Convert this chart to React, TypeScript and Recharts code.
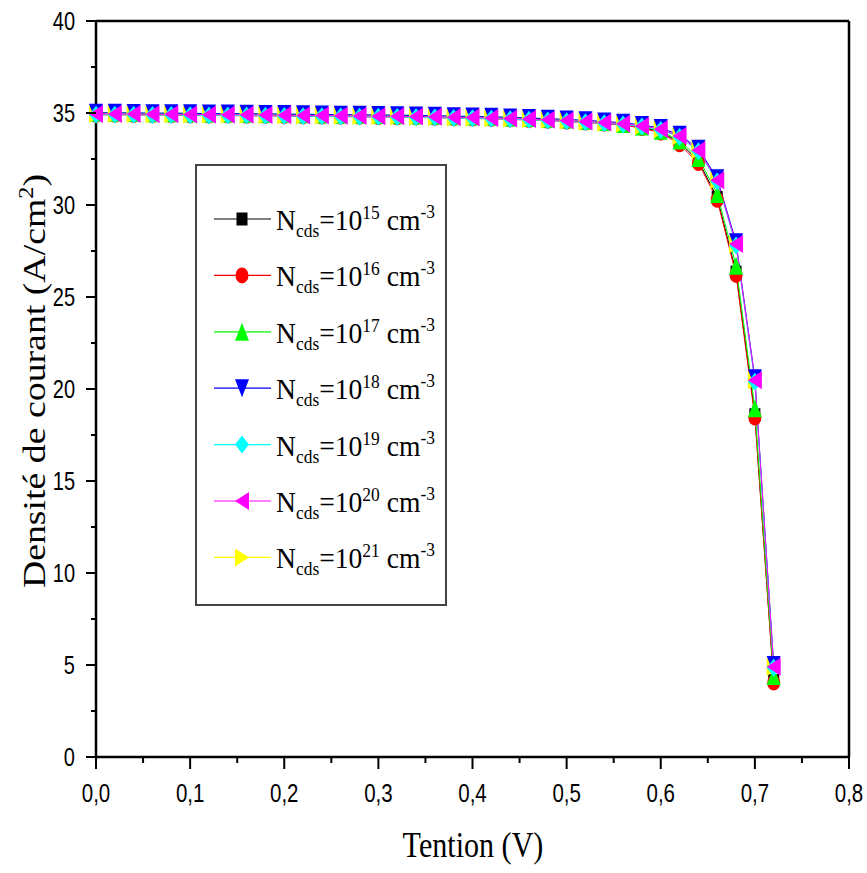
import { LineChart, Line, XAxis, YAxis, Label, Legend, ReferenceLine } from 'recharts';

const VOLTAGE = [
  0, 0.02, 0.04, 0.06, 0.08, 0.1, 0.12, 0.14, 0.16, 0.18, 0.2, 0.22, 0.24, 0.26, 0.28, 0.3, 0.32, 0.34,
  0.36, 0.38, 0.4, 0.42, 0.44, 0.46, 0.48, 0.5, 0.52, 0.54, 0.56, 0.58, 0.6, 0.62, 0.64, 0.66, 0.68, 0.7, 0.72,
];

const N15 = [
  34.93, 34.93, 34.92, 34.91, 34.91, 34.9, 34.89, 34.89, 34.88, 34.87, 34.86, 34.85, 34.84, 34.83, 34.82, 34.81,
  34.8, 34.79, 34.77, 34.75, 34.73, 34.71, 34.68, 34.65, 34.61, 34.56, 34.51, 34.45, 34.37, 34.22, 33.98, 33.4,
  32.4, 30.4, 26.35, 18.6, 4.15,
];
const N16 = [
  34.9, 34.9, 34.89, 34.88, 34.88, 34.87, 34.86, 34.86, 34.85, 34.84, 34.83, 34.82, 34.81, 34.8, 34.79, 34.78,
  34.77, 34.76, 34.74, 34.72, 34.7, 34.68, 34.65, 34.62, 34.58, 34.53, 34.48, 34.42, 34.34, 34.18, 33.93, 33.3,
  32.28, 30.28, 26.2, 18.45, 4.05,
];
const N17 = [
  35.01, 35.01, 35.0, 34.99, 34.99, 34.98, 34.97, 34.97, 34.96, 34.95, 34.94, 34.93, 34.92, 34.91, 34.9, 34.89,
  34.88, 34.87, 34.85, 34.83, 34.81, 34.79, 34.76, 34.73, 34.69, 34.64, 34.58, 34.51, 34.4, 34.26, 34.03, 33.5,
  32.55, 30.6, 26.7, 18.95, 4.4,
];
const N18 = [
  35.01, 35.01, 35.0, 34.99, 34.99, 34.98, 34.97, 34.97, 34.96, 34.95, 34.94, 34.93, 34.92, 34.91, 34.9, 34.89,
  34.88, 34.87, 34.85, 34.83, 34.81, 34.79, 34.76, 34.73, 34.69, 34.65, 34.6, 34.54, 34.47, 34.35, 34.18, 33.82,
  33.06, 31.45, 27.98, 20.58, 5.0,
];
const N19 = [
  34.91, 34.91, 34.9, 34.89, 34.89, 34.88, 34.87, 34.87, 34.86, 34.85, 34.84, 34.83, 34.82, 34.81, 34.8, 34.79,
  34.78, 34.77, 34.75, 34.73, 34.71, 34.69, 34.66, 34.63, 34.59, 34.55, 34.5, 34.44, 34.38, 34.26, 34.08, 33.7,
  32.92, 31.28, 27.8, 20.4, 4.85,
];
const N20 = [
  34.95, 34.95, 34.94, 34.93, 34.93, 34.92, 34.91, 34.91, 34.9, 34.89, 34.88, 34.87, 34.86, 34.85, 34.84, 34.83,
  34.82, 34.81, 34.79, 34.77, 34.75, 34.73, 34.7, 34.67, 34.63, 34.59, 34.54, 34.48, 34.42, 34.3, 34.12, 33.75,
  32.98, 31.35, 27.88, 20.48, 4.9,
];
const N21 = [
  34.94, 34.94, 34.93, 34.92, 34.92, 34.91, 34.9, 34.9, 34.89, 34.88, 34.87, 34.86, 34.85, 34.84, 34.83, 34.82,
  34.81, 34.8, 34.78, 34.76, 34.74, 34.72, 34.69, 34.66, 34.62, 34.58, 34.53, 34.47, 34.41, 34.29, 34.11, 33.74,
  32.97, 31.34, 27.87, 20.47, 4.89,
];

const X_TICKS = [0, 0.05, 0.1, 0.15, 0.2, 0.25, 0.3, 0.35, 0.4, 0.45, 0.5, 0.55, 0.6, 0.65, 0.7, 0.75, 0.8];
const Y_TICKS = [0, 2.5, 5, 7.5, 10, 12.5, 15, 17.5, 20, 22.5, 25, 27.5, 30, 32.5, 35, 37.5, 40];

// legend order (10^15 .. 10^21)
const SERIES = [
  { key: 'n15', exp: '15', color: '#000000', shape: 'square' },
  { key: 'n16', exp: '16', color: '#ff0000', shape: 'circle' },
  { key: 'n17', exp: '17', color: '#00ff00', shape: 'up' },
  { key: 'n18', exp: '18', color: '#0000ff', shape: 'down' },
  { key: 'n19', exp: '19', color: '#00ffff', shape: 'diamond' },
  { key: 'n20', exp: '20', color: '#ff00ff', shape: 'left' },
  { key: 'n21', exp: '21', color: '#ffff00', shape: 'right' },
];
// drawing order so that magenta ends up on top, yellow hidden under it
const DRAW_ORDER = ['n15', 'n16', 'n17', 'n21', 'n18', 'n19', 'n20'];

const data = VOLTAGE.map((v, i) => ({
  v,
  n15: N15[i],
  n16: N16[i],
  n17: N17[i],
  n18: N18[i],
  n19: N19[i],
  n20: N20[i],
  n21: N21[i],
}));

const SANS = '"Liberation Sans", Arial, sans-serif';
const SERIF = '"Liberation Serif", "Times New Roman", serif';

function markerShape(shape: string, cx: number, cy: number, color: string, key?: any) {
  const w = 7;
  const h = 9;
  switch (shape) {
    case 'square':
      return <rect key={key} x={cx - 5.5} y={cy - 6.5} width={11} height={13} fill={color} />;
    case 'circle':
      return <ellipse key={key} cx={cx} cy={cy} rx={6.5} ry={8} fill={color} />;
    case 'up':
      return <polygon key={key} points={`${cx},${cy - h} ${cx + w},${cy + h} ${cx - w},${cy + h}`} fill={color} />;
    case 'down':
      return <polygon key={key} points={`${cx - w},${cy - h} ${cx + w},${cy - h} ${cx},${cy + h}`} fill={color} />;
    case 'diamond':
      return <polygon key={key} points={`${cx},${cy - h} ${cx + w},${cy} ${cx},${cy + h} ${cx - w},${cy}`} fill={color} />;
    case 'left':
      return <polygon key={key} points={`${cx - w},${cy} ${cx + w},${cy - h} ${cx + w},${cy + h}`} fill={color} />;
    default:
      return <polygon key={key} points={`${cx + w},${cy} ${cx - w},${cy - h} ${cx - w},${cy + h}`} fill={color} />;
  }
}

const XTick = (props: any) => {
  const { x, y, payload } = props;
  const v = payload.value;
  const major = Math.round(v * 100) % 10 === 0;
  return (
    <g>
      <line x1={x} y1={y} x2={x} y2={y + (major ? 12 : 6)} stroke="#000" strokeWidth={2} />
      {major && (
        <text
          transform={`translate(${x},${y + 45}) scale(0.82,1)`}
          textAnchor="middle"
          fontFamily={SANS}
          fontSize={25}
          fill="#000"
        >
          {v.toFixed(1).replace('.', ',')}
        </text>
      )}
    </g>
  );
};

const YTick = (props: any) => {
  const { x, y, payload } = props;
  const v = payload.value;
  const major = v % 5 === 0;
  return (
    <g>
      <line x1={x} y1={y} x2={x - (major ? 10 : 5)} y2={y} stroke="#000" strokeWidth={2} />
      {major && (
        <text
          transform={`translate(${x - 21},${y + 9}) scale(0.8,1)`}
          textAnchor="end"
          fontFamily={SANS}
          fontSize={25}
          fill="#000"
        >
          {v}
        </text>
      )}
    </g>
  );
};

const XTitle = () => (
  <g transform="translate(473,857) scale(0.86,1)">
    <text textAnchor="middle" fontFamily={SERIF} fontSize={35} fill="#000">
      Tention (V)
    </text>
  </g>
);

const YTitle = () => (
  <g transform="translate(45,381) rotate(-90) scale(1.22,1)">
    <text textAnchor="middle" fontFamily={SERIF} fontSize={31} fill="#000">
      Densité de courant (A/cm
      <tspan dy={-12} fontSize={20}>
        2
      </tspan>
      <tspan dy={12}>)</tspan>
    </text>
  </g>
);

const renderLegend = () => (
  <svg width={252} height={442} style={{ display: 'block' }}>
    <rect x={1} y={1} width={250} height={440} fill="#fff" stroke="#444" strokeWidth={2} />
    {SERIES.map((s, i) => {
      const cy = 55 + i * 56.4;
      return (
        <g key={s.key}>
          <line x1={19} y1={cy} x2={76} y2={cy} stroke={s.color} strokeWidth={1.2} />
          {markerShape(s.shape, 47, cy, s.color)}
          <g transform={`translate(81,${cy + 11}) scale(0.92,1)`}>
            <text fontFamily={SERIF} fontSize={30} fill="#000">
              N
              <tspan dy={7} fontSize={19}>
                cds
              </tspan>
              <tspan dy={-7}>=10</tspan>
              <tspan dy={-11} fontSize={19}>
                {s.exp}
              </tspan>
              <tspan dy={11}>{' cm'}</tspan>
              <tspan dy={-12} fontSize={19}>
                -3
              </tspan>
            </text>
          </g>
        </g>
      );
    })}
  </svg>
);

export default function App() {
  return (
    <div style={{ position: 'absolute', left: 0, top: 0, width: 867, height: 873, background: '#fff' }}>
      <LineChart width={867} height={873} data={data} margin={{ top: 21, right: 18, bottom: 0, left: 0 }}>
        <XAxis
          dataKey="v"
          type="number"
          domain={[0, 0.8]}
          ticks={X_TICKS}
          interval={0}
          tickSize={0}
          tickMargin={0}
          tickLine={false}
          tick={<XTick />}
          height={116}
          axisLine={{ stroke: '#000', strokeWidth: 2.5 }}
        >
          <Label content={XTitle} />
        </XAxis>
        <YAxis
          type="number"
          domain={[0, 40]}
          ticks={Y_TICKS}
          interval={0}
          tickSize={0}
          tickMargin={0}
          tickLine={false}
          tick={<YTick />}
          width={96}
          axisLine={{ stroke: '#000', strokeWidth: 2.5 }}
        >
          <Label content={YTitle} />
        </YAxis>
        <ReferenceLine y={40} stroke="#000" strokeWidth={2.5} />
        <ReferenceLine x={0.8} stroke="#000" strokeWidth={2.5} />
        {DRAW_ORDER.map((k) => {
          const s = SERIES.find((x) => x.key === k)!;
          return (
            <Line
              key={k}
              type="linear"
              dataKey={k}
              stroke={s.color}
              strokeWidth={1}
              isAnimationActive={false}
              dot={(p: any) => markerShape(s.shape, p.cx, p.cy, s.color, `${k}-${p.index}`)}
              activeDot={false}
            />
          );
        })}
        <Legend
          content={renderLegend}
          layout="vertical"
          align="center"
          verticalAlign="middle"
          wrapperStyle={{ left: 195, top: 164, width: 252, height: 442 }}
        />
      </LineChart>
    </div>
  );
}
